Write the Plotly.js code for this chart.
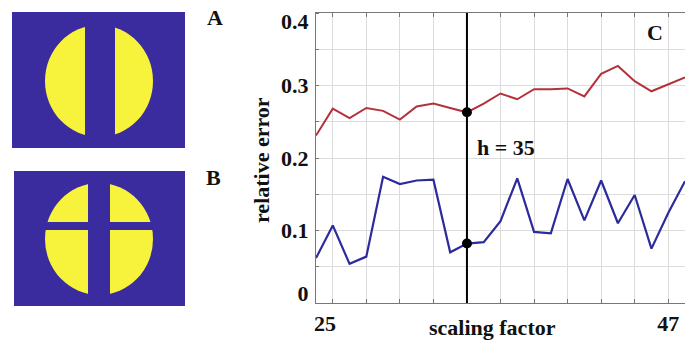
<!DOCTYPE html>
<html>
<head>
<meta charset="utf-8">
<script src="https://cdn.plot.ly/plotly-3.0.1.min.js"></script>
<style>html,body{margin:0;padding:0;background:#fff;}#chart{width:685px;height:341px;}</style>
</head>
<body>
<div id="chart"></div>
<script>
// ---- data ----
const scalingFactor = [26,27,28,29,30,31,32,33,34,35,36,37,38,39,40,41,42,43,44,45,46,47,48];
const errorRed  = [0.231,0.268,0.255,0.269,0.265,0.253,0.271,0.275,0.269,0.263,0.275,0.289,0.281,0.295,0.295,0.296,0.285,0.316,0.327,0.306,0.292,0.301,0.311];
const errorBlue = [0.062,0.107,0.054,0.064,0.174,0.164,0.169,0.170,0.070,0.082,0.084,0.113,0.172,0.098,0.096,0.171,0.114,0.169,0.110,0.149,0.075,0.124,0.168];
const hMark = 35;
const yTickLabels = ["0","0.1","0.2","0.3","0.4"];
const xTickLabelFirst = "25";
const xTickLabelLast = "47";

// ---- layout helpers (pixel -> paper) ----
const W = 685, H = 341;
const M = {l:316, r:0, t:13, b:38};
const PW = W - M.l - M.r, PH = H - M.t - M.b;
const px = x => (x - M.l) / PW;
const py = y => (H - M.b - y) / PH;

const serif = "Liberation Serif, Times New Roman, serif";
const txt = (text, x, y, size) => ({
  text, xref:'paper', yref:'paper', x:px(x), y:py(y), xanchor:'center', yanchor:'middle',
  showarrow:false, font:{family:serif, size:size||22, color:'#111', weight:'bold'}
});

const idx = scalingFactor.indexOf(hMark);

const traces = [
  {x:scalingFactor, y:errorRed, mode:'lines', line:{color:'#b3323a', width:2}, hoverinfo:'skip'},
  {x:scalingFactor, y:errorBlue, mode:'lines', line:{color:'#2b2b9c', width:2.2}, hoverinfo:'skip'},
  {x:[hMark,hMark], y:[errorRed[idx], errorBlue[idx]], mode:'markers', marker:{color:'#000', size:10}, hoverinfo:'skip'}
];

const blue = '#3a2b9f', yellow = '#f7f33c';
const rect = (x0,y0,x1,y1,color) => ({type:'rect', xref:'paper', yref:'paper', x0:px(x0), x1:px(x1), y0:py(y1), y1:py(y0), fillcolor:color, line:{width:0}});
const ell = (cx,cy,rx,ry,color) => ({type:'circle', xref:'paper', yref:'paper', x0:px(cx-rx), x1:px(cx+rx), y0:py(cy+ry), y1:py(cy-ry), fillcolor:color, line:{width:0}});

const shapes = [
  // panel A
  rect(12,12,185,148,blue),
  ell(99,81,54,56,yellow),
  rect(85,18,115,142,blue),
  // panel B
  rect(14,171,185,306,blue),
  ell(99,239,54,56,yellow),
  rect(88,177,110,300,blue),
  rect(35,222,165,230,blue),
  // vertical marker line
  {type:'line', xref:'x', yref:'paper', x0:hMark, x1:hMark, y0:0, y1:1, line:{color:'#000', width:2}}
];

const oddTicks = scalingFactor.filter(v => v % 2 === 1);

const layout = {
  width:W, height:H, margin:M,
  paper_bgcolor:'#fff', plot_bgcolor:'#fff',
  showlegend:false,
  xaxis:{
    range:[26,48], tickvals:oddTicks,
    ticktext:oddTicks.map(v => v === 47 ? xTickLabelLast : ''),
    showgrid:true, gridcolor:'#dcdcdc', gridwidth:1,
    showline:true, linecolor:'#777', linewidth:1.2, mirror:'ticks',
    ticks:'inside', ticklen:4, tickcolor:'#777',
    tickfont:{family:serif, size:22, color:'#111', weight:'bold'},
    zeroline:false, fixedrange:true
  },
  yaxis:{
    range:[0,0.4],
    tickvals:[0.013,0.1,0.2,0.3,0.388], ticktext:yTickLabels,
    showgrid:false, ticks:'', ticklabelstandoff:2,
    minor:{tick0:0, dtick:0.05, showgrid:true, gridcolor:'#dcdcdc', gridwidth:1, ticks:'inside', ticklen:3, tickcolor:'#777'},
    showline:true, linecolor:'#777', linewidth:1.2, mirror:true,
    tickfont:{family:serif, size:22, color:'#111', weight:'bold'},
    zeroline:false, fixedrange:true
  },
  shapes,
  annotations:[
    txt('A', 215, 17),
    txt('B', 213, 177),
    txt('C', 655, 32),
    txt('h = 35', 506, 147),
    txt(xTickLabelFirst, 325, 323),
    txt('scaling factor', 492, 327),
    Object.assign(txt('relative error', 261, 160), {textangle:-90})
  ]
};

Plotly.newPlot('chart', traces, layout, {displayModeBar:false, staticPlot:true});
</script>
</body>
</html>
